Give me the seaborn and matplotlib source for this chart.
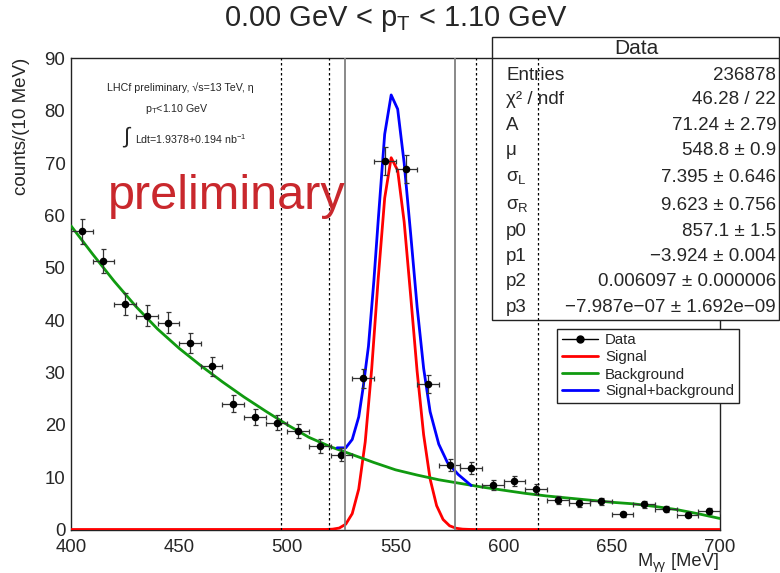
import numpy as np
import pandas as pd
import matplotlib
matplotlib.use("Agg")
import matplotlib.pyplot as plt
import seaborn as sns
from matplotlib.lines import Line2D
from matplotlib.patches import Rectangle

# ---------------- data ----------------
mass_bins = [405, 415, 425, 435, 445, 455, 465, 475, 485, 495,
             505, 515, 525, 535, 545, 555, 565, 575, 585, 595,
             605, 615, 625, 635, 645, 655, 665, 675, 685, 695]
counts = [57.0, 51.3, 43.0, 40.8, 39.5, 35.7, 31.2, 24.0, 21.5, 20.4,
          18.8, 15.9, 14.3, 28.9, 70.4, 68.9, 27.8, 12.3, 11.7, 8.5,
          9.3, 7.7, 5.6, 5.0, 5.4, 2.9, 4.8, 3.9, 2.8, 3.5]
count_err = [2.4, 2.3, 2.1, 2.0, 2.0, 1.9, 1.8, 1.6, 1.5, 1.4,
             1.4, 1.3, 1.2, 1.8, 2.7, 2.7, 1.7, 1.1, 1.1, 0.9,
             1.0, 0.9, 0.8, 0.7, 0.7, 0.5, 0.7, 0.6, 0.5, 0.6]
bin_half_width = [5] * len(mass_bins)

bg_mass = [400, 410, 420, 430, 440, 450, 460, 470, 480, 490, 500,
           510, 520, 530, 540, 550, 560, 570, 580, 590, 600,
           610, 620, 630, 640, 650, 660, 670, 680, 690, 700]
bg_counts = [58.0, 52.6, 47.4, 42.6, 38.3, 34.6, 31.3, 28.2, 25.3, 22.6, 20.0,
             17.6, 15.8, 14.3, 12.8, 11.4, 10.4, 9.5, 8.8, 8.1, 7.5,
             6.9, 6.4, 6.0, 5.6, 5.2, 4.9, 4.4, 3.8, 3.0, 2.1]

sig_mass = [400, 518, 521, 524, 527, 530, 533, 536, 539, 542, 545, 548,
            551, 554, 557, 560, 563, 566, 569, 572, 575, 578, 581, 584, 587, 700]
sig_counts = [0, 0.01, 0.07, 0.28, 1.01, 3.03, 7.72, 16.72, 30.71, 47.87, 63.29, 71.01,
              68.58, 58.76, 44.70, 30.19, 18.11, 9.64, 4.56, 1.91, 0.71, 0.24, 0.07, 0.02, 0, 0]

sb_mass = [523, 527, 530, 533, 535, 537.5, 540, 542, 545, 548, 551, 554,
           557, 560, 563, 566, 570, 574, 579, 585]
sb_counts = [15.6, 15.6, 17.2, 21.5, 27.0, 35.0, 47.5, 59.0, 75.5, 83.0, 80.3, 70.0,
             56.5, 42.5, 30.8, 22.5, 16.3, 12.8, 10.5, 8.4]

dotted_lines = [497.0, 519.3, 587.0, 616.0]
solid_lines = [526.6, 577.7]

stat_labels = ["Entries", "χ² / ndf", "A", "μ", "σ$_{\\mathrm{L}}$", "σ$_{\\mathrm{R}}$",
               "p0", "p1", "p2", "p3"]
stat_values = ["236878", "46.28 / 22", "71.24 ± 2.79", "548.8 ± 0.9", "7.395 ± 0.646",
               "9.623 ± 0.756", "857.1 ± 1.5", "−3.924 ± 0.004",
               "0.006097 ± 0.000006", "−7.987e−07 ± 1.692e−09"]
legend_labels = ["Data", "Signal", "Background", "Signal+background"]

# ---------------- style ----------------
sns.set_theme(style="white")
plt.rcParams["font.family"] = ["Liberation Sans", "DejaVu Sans"]
plt.rcParams["mathtext.fontset"] = "custom"
plt.rcParams["mathtext.rm"] = "Liberation Sans"
plt.rcParams["mathtext.it"] = "Liberation Sans:italic"
plt.rcParams["mathtext.bf"] = "Liberation Sans:bold"

W, H = 780, 573
fig = plt.figure(figsize=(W / 100, H / 100), dpi=100)
fx = lambda x: x / W
fy = lambda y: 1 - y / H
ax = fig.add_axes([fx(71), fy(529.5), (720 - 71) / W, (529.5 - 58.3) / H])

RED, GREEN, BLUE = "#ff0000", "#109a10", "#0000ff"

df_bg = pd.DataFrame({"m": bg_mass, "c": bg_counts})
df_sig = pd.DataFrame({"m": sig_mass, "c": sig_counts})
df_sb = pd.DataFrame({"m": sb_mass, "c": sb_counts})
df_data = pd.DataFrame({"m": mass_bins, "c": counts})

sns.lineplot(data=df_sig, x="m", y="c", color=RED, lw=2.0, ax=ax, sort=False, zorder=3)
sns.lineplot(data=df_bg, x="m", y="c", color=GREEN, lw=2.0, ax=ax, sort=False, zorder=3)
sns.lineplot(data=df_sb, x="m", y="c", color=BLUE, lw=2.0, ax=ax, sort=False, zorder=3)

ax.errorbar(mass_bins, counts, yerr=count_err, xerr=bin_half_width, fmt="none",
            ecolor="#333333", elinewidth=0.9, capsize=1.8, capthick=0.9, zorder=4)
sns.scatterplot(data=df_data, x="m", y="c", color="black", s=30, edgecolor="black",
                linewidth=0, ax=ax, zorder=5)

for xv in dotted_lines:
    ax.axvline(xv, color="black", lw=0.9, ls=(0, (2, 2)), zorder=7)
for xv in solid_lines:
    ax.axvline(xv, color="#808080", lw=1.3, zorder=7)

ax.set_xlim(400, 700)
ax.set_ylim(0, 90)
ax.set_xlabel("")
ax.set_ylabel("")
ax.set_xticks(range(400, 701, 50))
ax.set_xticks(range(400, 701, 10), minor=True)
ax.set_yticks(range(0, 91, 10))
ax.set_yticks(range(0, 91, 2), minor=True)
ax.tick_params(axis="x", which="major", direction="in", length=10, width=1, color="#555555",
               labelsize=13.4, pad=6.6, top=False)
ax.tick_params(axis="x", which="minor", direction="in", length=5, width=1, color="#555555", top=False)
ax.tick_params(axis="y", which="major", direction="in", length=14, width=1, color="#555555",
               labelsize=13.4, pad=4, right=False)
ax.tick_params(axis="y", which="minor", direction="in", length=7, width=1, color="#555555", right=False)
for s in ax.spines.values():
    s.set_color("#222222")
    s.set_linewidth(1)

# stats box (covers the right spine, lines are drawn above it)
box = Rectangle((fx(492), fy(320)), (779 - 492) / W, (320 - 37) / H, transform=fig.transFigure,
                facecolor="white", edgecolor="#222222", lw=1, clip_on=False, zorder=6)
ax.add_patch(box)
ax.add_line(Line2D([fx(492), fx(779)], [fy(58.3), fy(58.3)], transform=fig.transFigure,
                   color="#222222", lw=1, clip_on=False, zorder=6))
fig.text(fx(636), fy(49), "Data", ha="center", va="center", size=15)
row_y = [75, 99, 126, 151, 178, 206, 232, 257, 282, 307]
for lab, val, yy in zip(stat_labels, stat_values, row_y):
    fig.text(fx(506), fy(yy), lab, ha="left", va="center", size=13.5)
    fig.text(fx(776), fy(yy), val, ha="right", va="center", size=13.5)

# legend
handles = [Line2D([], [], color="black", lw=1, marker="o", markersize=5),
           Line2D([], [], color=RED, lw=2),
           Line2D([], [], color=GREEN, lw=2),
           Line2D([], [], color=BLUE, lw=2)]
leg = ax.legend(handles, legend_labels, loc="upper left", bbox_to_anchor=(fx(557), fy(329)),
                bbox_transform=fig.transFigure, borderaxespad=0, fancybox=False, framealpha=1,
                edgecolor="#222222", fontsize=10.8, handlelength=2.4, handletextpad=0.5,
                labelspacing=0.2, borderpad=0.3)
leg.get_frame().set_linewidth(1)
leg.set_zorder(8)

# titles and annotations
fig.text(fx(396), fy(19), "0.00 GeV < p$_{\\mathrm{T}}$ < 1.10 GeV", ha="center", va="center", size=21)
fig.text(fx(22), fy(58), "counts/(10 MeV)", rotation=90, ha="center", va="top", size=13.5)

# x-axis title built from pieces so the subscript stays inside the canvas
renderer = fig.canvas.get_renderer()
t_unit = fig.text(fx(719), fy(566), " [MeV]", ha="right", va="baseline", size=13.2)
bb = t_unit.get_window_extent(renderer)
t_sub = fig.text(bb.x0 / W, fy(569), "γγ", ha="right", va="baseline", size=9.3)
bb2 = t_sub.get_window_extent(renderer)
fig.text(bb2.x0 / W, fy(566), "M", ha="right", va="baseline", size=13.2)

fig.text(fx(180), fy(88), "LHCf preliminary, √s=13 TeV, η", ha="center", va="center", size=7.7)
fig.text(fx(177), fy(109), "p$_{\\mathrm{T}}$<1.10 GeV", ha="center", va="center", size=7.7)
fig.text(fx(126), fy(137), "∫", ha="center", va="center", size=16)
fig.text(fx(135), fy(139), "Ldt=1.9378+0.194 nb$^{\\mathrm{-1}}$", ha="left", va="center", size=7.7)
fig.text(fx(108), fy(209), "preliminary", ha="left", va="baseline", size=35, color="#c9282d")

fig.savefig("out.png", dpi=100)
